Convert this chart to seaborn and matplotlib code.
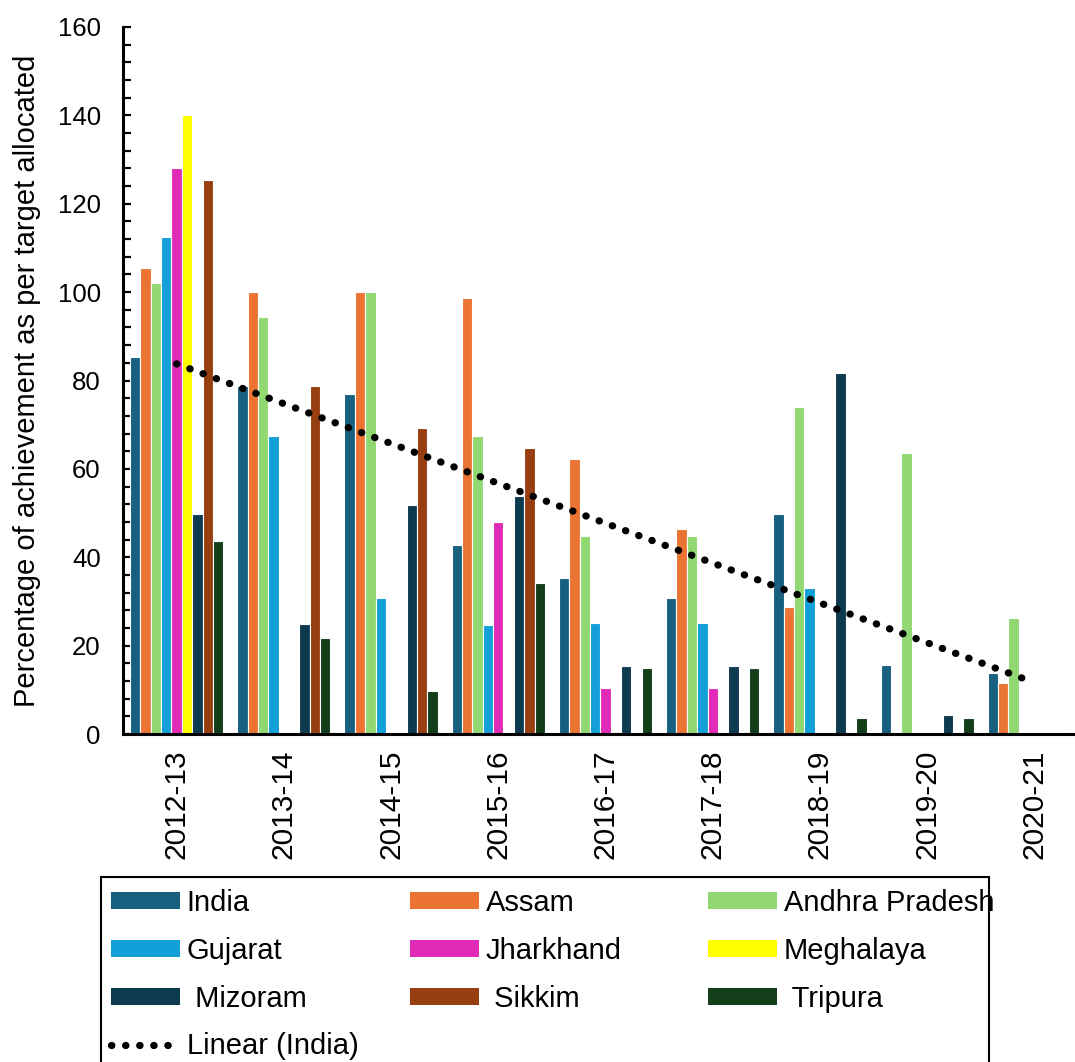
#!/usr/bin/env python3
"""Grouped bars: percentage of achievement vs target, India and states, with India trend."""

import numpy as np
import pandas as pd
import matplotlib
matplotlib.use("Agg")
import matplotlib.pyplot as plt
import seaborn as sns
from matplotlib.patches import Patch, Rectangle
from matplotlib.lines import Line2D

sns.set_style("white")
plt.rcParams["font.family"] = ["Liberation Sans", "DejaVu Sans"]
plt.rcParams["text.color"] = "black"
plt.rcParams["axes.labelcolor"] = "black"
plt.rcParams["xtick.color"] = "black"
plt.rcParams["ytick.color"] = "black"

years = ["2012-13", "2013-14", "2014-15", "2015-16", "2016-17",
         "2017-18", "2018-19", "2019-20", "2020-21"]
states = ["India", "Assam", "Andhra Pradesh", "Gujarat", "Jharkhand",
          "Meghalaya", "Mizoram", "Sikkim", "Tripura"]
legend_labels = ["India", "Assam", "Andhra Pradesh", "Gujarat", "Jharkhand",
                 "Meghalaya", " Mizoram", " Sikkim", " Tripura"]
colors = ["#17607f", "#ec7433", "#92d872", "#13a0d8", "#e12bb8",
          "#ffff00", "#0e3a4f", "#983f11", "#123f1a"]

nan = np.nan
india = [85.3, 78.7, 77.0, 42.7, 35.4, 30.8, 49.9, 15.6, 13.9]
assam = [105.5, 100.0, 100.0, 98.6, 62.2, 46.5, 28.8, nan, 11.5]
andhra = [102.0, 94.3, 100.0, 67.4, 44.9, 44.9, 74.1, 63.7, 26.3]
gujarat = [112.4, 67.4, 30.8, 24.7, 25.1, 25.1, 33.1, nan, nan]
jharkhand = [128.1, nan, nan, 47.9, 10.4, 10.4, nan, nan, nan]
meghalaya = [140.0, nan, nan, nan, nan, nan, nan, nan, nan]
mizoram = [49.8, 24.9, 51.9, 53.8, 15.4, 15.4, 81.8, 4.2, 0.3]
sikkim = [125.3, 78.8, 69.3, 64.8, nan, nan, nan, nan, nan]
tripura = [43.6, 21.8, 9.8, 34.1, 14.9, 14.9, 3.7, 3.7, 0.4]

series = [india, assam, andhra, gujarat, jharkhand, meghalaya, mizoram, sikkim, tripura]

rows = []
for name, vals in zip(states, series):
    for yr, v in zip(years, vals):
        rows.append({"Year": yr, "State": name, "Value": v})
df = pd.DataFrame(rows)

fig = plt.figure(figsize=(10.75, 10.62), dpi=100)
W, H = 1075, 1062
ax = fig.add_axes([123 / W, 1 - 734 / H, (1088 - 123) / W, (734 - 27) / H])

sns.barplot(data=df.dropna(), x="Year", y="Value", hue="State",
            order=years, hue_order=states, palette=colors, saturation=1,
            width=0.87, errorbar=None, edgecolor="white", linewidth=0.8,
            legend=False, ax=ax)

# linear trend of India over the categories
xs = np.arange(len(years))
fit = np.polyfit(xs, india, 1)
trend_style = dict(color="black", linewidth=5.2, linestyle=(0, (0.05, 1.9)),
                   dash_capstyle="round")
ax.plot(xs, np.polyval(fit, xs), **trend_style)

ax.set_xlim(-0.5, len(years) - 0.5)
ax.set_ylim(0, 160)
ax.set_yticks(np.arange(0, 161, 20))
ax.set_yticks(np.arange(0, 161, 4), minor=True)
ax.set_xlabel("")
ax.set_ylabel("Percentage of achievement as per target allocated",
              fontsize=21, labelpad=12)

for side in ["top", "right"]:
    ax.spines[side].set_visible(False)
for side in ["left", "bottom"]:
    ax.spines[side].set_linewidth(2.2)
    ax.spines[side].set_color("black")

ax.tick_params(axis="y", which="both", direction="in", length=6, width=1.6,
               labelsize=18.5, pad=16, left=True)
ax.tick_params(axis="x", length=0, labelsize=21.5, pad=11, labelrotation=90)

# legend: three columns of equal width, boxed
handles = [Patch(facecolor=c, edgecolor="none") for c in colors]
trend_handle = Line2D([], [], **trend_style)
cols = [
    ([handles[0], handles[3], handles[6], trend_handle],
     [legend_labels[0], legend_labels[3], legend_labels[6], "Linear (India)"]),
    ([handles[1], handles[4], handles[7]],
     [legend_labels[1], legend_labels[4], legend_labels[7]]),
    ([handles[2], handles[5], handles[8]],
     [legend_labels[2], legend_labels[5], legend_labels[8]]),
]
col_x = [111, 410, 708]
for (hs, ls), cx in zip(cols, col_x):
    fig.legend(hs, ls, loc="upper left", bbox_to_anchor=(cx / W, 1 - 889 / H),
               frameon=False, fontsize=21, borderpad=0, borderaxespad=0,
               handlelength=2.35, handleheight=0.5, handletextpad=0.25,
               labelspacing=0.68)

fig.patches.append(Rectangle((101 / W, -0.05), (989 - 101) / W, (1 - 877 / H) + 0.05,
                             transform=fig.transFigure, fill=False,
                             edgecolor="black", linewidth=1.5))

fig.savefig("out.png", dpi=100)
